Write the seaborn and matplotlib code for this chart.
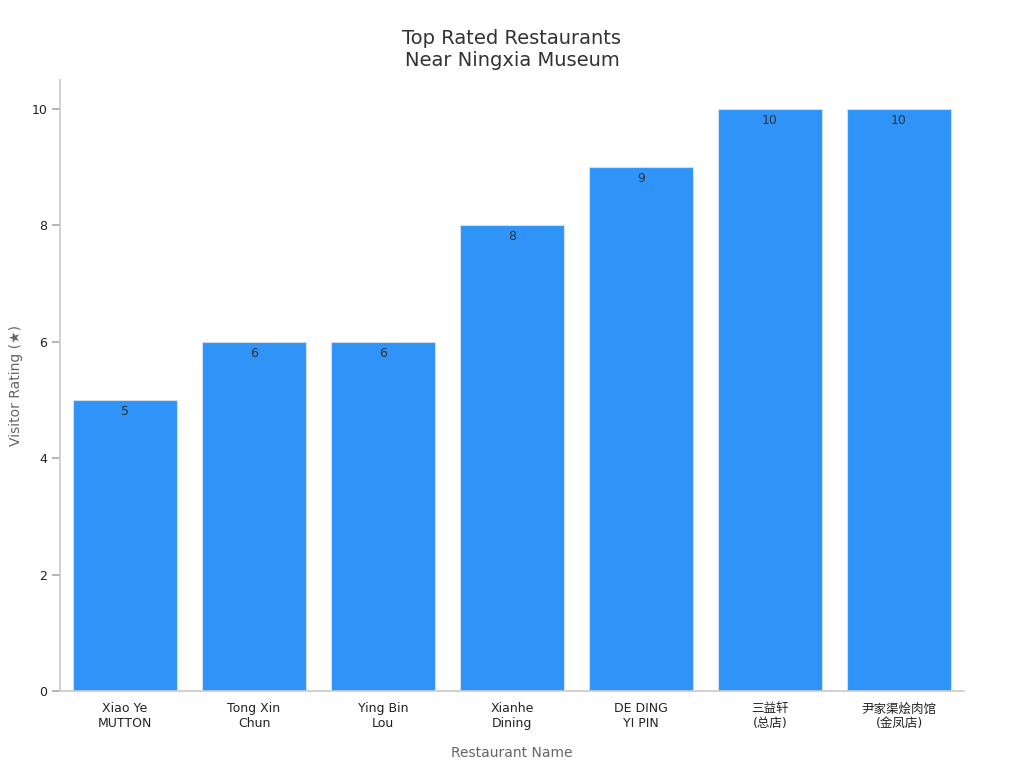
import matplotlib
matplotlib.use("Agg")
import matplotlib.pyplot as plt
import seaborn as sns
import pandas as pd

restaurants = ["Xiao Ye\nMUTTON", "Tong Xin\nChun", "Ying Bin\nLou", "Xianhe\nDining",
               "DE DING\nYI PIN", "三益轩\n(总店)", "尹家渠烩肉馆\n(金凤店)"]
ratings = [5, 6, 6, 8, 9, 10, 10]

sns.set_theme(style="ticks")
plt.rcParams['font.family'] = ['DejaVu Sans', 'Noto Sans CJK SC']

df = pd.DataFrame({"Restaurant": restaurants, "Rating": ratings})

fig = plt.figure(figsize=(10.24, 7.68), dpi=100)
ax = fig.add_axes([0.059, 0.10, 0.882, 0.796])
sns.barplot(data=df, x="Restaurant", y="Rating", color="#2f93f7", saturation=1,
            width=0.8, edgecolor="#d0dff0", linewidth=0.8, ax=ax)

for i, v in enumerate(ratings):
    ax.text(i, v - 0.08, str(v), ha="center", va="top", fontsize=9, color="#333333")

ax.set_ylim(0, 10.5)
ax.set_xlim(-0.5, 6.5)
ax.set_xlabel("Restaurant Name", fontsize=10, color="#666666", labelpad=11)
ax.set_ylabel("Visitor Rating (★)", fontsize=10, color="#666666", labelpad=6)
ax.tick_params(labelsize=9, colors="#222222")
ax.tick_params(axis="both", color="#aaaaaa")
ax.tick_params(axis="x", length=0, pad=8)
for s in ["left", "bottom"]:
    ax.spines[s].set_color("#cccccc")
sns.despine(ax=ax)
ax.set_title("Top Rated Restaurants\nNear Ningxia Museum", fontsize=14, color="#333333", pad=10)

fig.savefig("out.png", dpi=100)
